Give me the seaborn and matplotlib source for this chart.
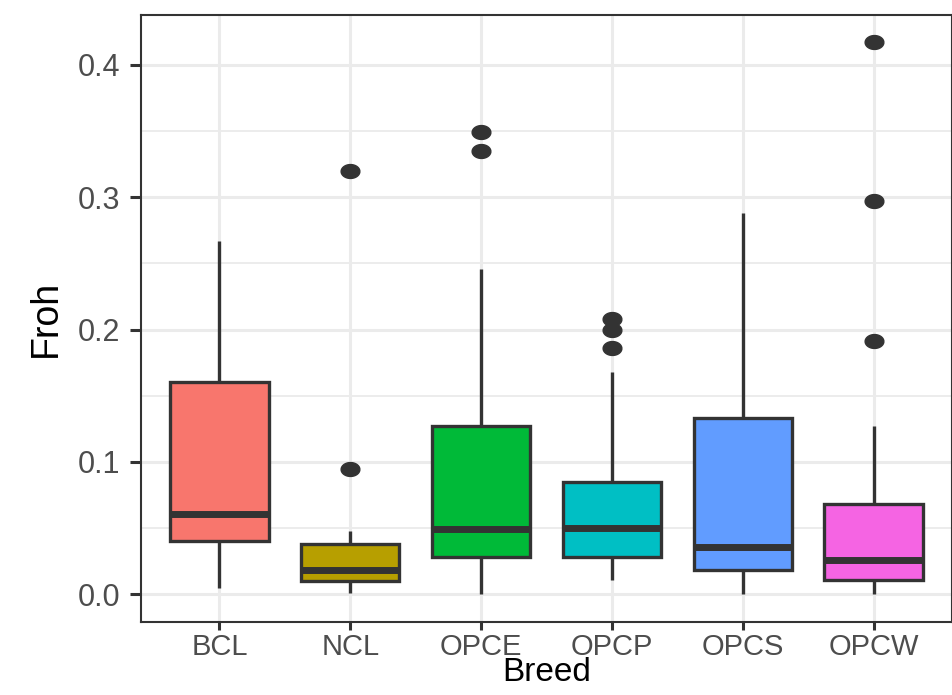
"""Boxplot of Froh by breed, ggplot theme_bw look."""
import matplotlib

matplotlib.use("Agg")
import matplotlib.pyplot as plt
import numpy as np
import pandas as pd
import seaborn as sns
from matplotlib.ticker import FormatStrFormatter, MultipleLocator

breeds = ["BCL", "NCL", "OPCE", "OPCP", "OPCS", "OPCW"]
colors = ["#F8766D", "#B79F00", "#00BA38", "#00BFC4", "#619CFF", "#F564E3"]

# five-number summaries, plus the outlying points
whisker_low = [0.005, 0.001, 0.0, 0.011, 0.0, 0.0]
q1 = [0.040, 0.010, 0.028, 0.028, 0.018, 0.011]
median = [0.061, 0.018, 0.049, 0.050, 0.036, 0.026]
q3 = [0.160, 0.038, 0.127, 0.085, 0.133, 0.068]
whisker_high = [0.267, 0.048, 0.246, 0.168, 0.288, 0.127]
outliers = [[], [0.095, 0.320], [0.335, 0.349], [0.186, 0.200, 0.208], [], [0.191, 0.297, 0.417]]

yticks = [0.0, 0.1, 0.2, 0.3, 0.4]

LINE = "#333333"
GRID = "#EBEBEB"


def breed_values(i):
    # 17 values: quartiles land exactly on sorted indices 4, 8 and 12
    tail = [whisker_high[i]] * (4 - len(outliers[i])) + outliers[i]
    return [whisker_low[i]] + [q1[i]] * 4 + [median[i]] * 4 + [q3[i]] * 4 + tail


def main():
    rows = []
    for i, breed in enumerate(breeds):
        rows += [(breed, v) for v in breed_values(i)]
    df = pd.DataFrame(rows, columns=["Breed", "Froh"])

    sns.set_theme(style="white")
    plt.rcParams["font.family"] = ["Liberation Sans", "DejaVu Sans"]

    fig = plt.figure(figsize=(9.53, 6.95), dpi=100)
    ax = fig.add_axes([141 / 953, 1 - 622 / 695, (952 - 141) / 953, (622 - 14.5) / 695])

    # slightly wide dot, as in the source image
    t = np.linspace(0, 2 * np.pi, 48)
    dot = list(zip(1.35 * np.cos(t), np.sin(t)))

    sns.boxplot(
        data=df, x="Breed", y="Froh", hue="Breed", order=breeds, hue_order=breeds,
        palette=colors, saturation=1, width=0.75, linewidth=2.4, linecolor=LINE,
        legend=False, whis=1.5, ax=ax,
        boxprops=dict(edgecolor=LINE, linewidth=2.4, zorder=3),
        whiskerprops=dict(color=LINE, linewidth=2.4, zorder=2),
        capprops=dict(linewidth=0),
        medianprops=dict(color=LINE, linewidth=5, zorder=4),
        flierprops=dict(marker=dot, markersize=13.5, markerfacecolor=LINE,
                        markeredgecolor=LINE, linestyle="none", zorder=5),
    )

    ax.set_xlim(-0.6, 5.6)
    ax.set_ylim(-0.0209, 0.4379)
    ax.set_yticks(yticks)
    ax.yaxis.set_major_formatter(FormatStrFormatter("%.1f"))
    ax.yaxis.set_minor_locator(MultipleLocator(0.05))

    ax.set_axisbelow(True)
    ax.grid(True, which="major", axis="both", color=GRID, linewidth=2.2)
    ax.grid(True, which="minor", axis="y", color=GRID, linewidth=1.3)

    for spine in ax.spines.values():
        spine.set_visible(True)
        spine.set_color(LINE)
        spine.set_linewidth(1.5)

    ax.tick_params(axis="y", which="major", length=8, width=2.2, color=LINE,
                   labelsize=22, labelcolor="#4D4D4D", pad=7, left=True)
    ax.tick_params(axis="x", which="major", length=6, width=2.2, color=LINE,
                   labelsize=21, labelcolor="#4D4D4D", pad=2, bottom=True)
    ax.tick_params(which="minor", length=0)

    ax.set_xlabel("Breed", fontsize=24, color="black", labelpad=-3)
    ax.set_ylabel("Froh", fontsize=27, color="black", labelpad=10)

    fig.savefig("out.png", dpi=100)


if __name__ == "__main__":
    main()
